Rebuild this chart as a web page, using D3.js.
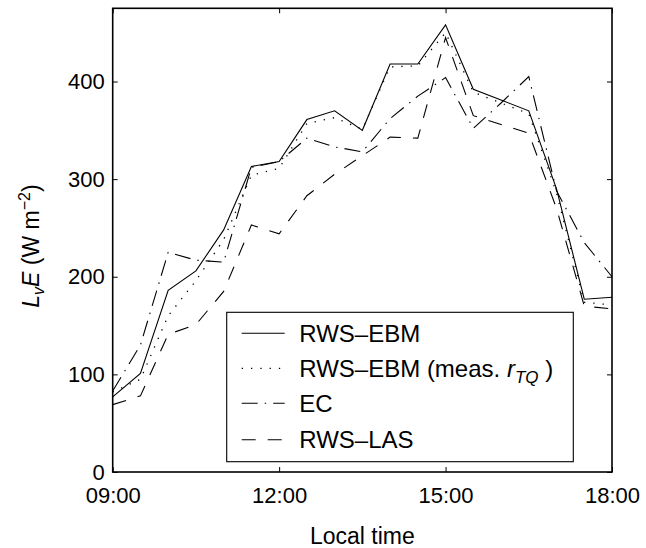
<!DOCTYPE html>
<html>
<head>
<meta charset="utf-8">
<script src="https://cdn.jsdelivr.net/npm/d3@7"></script>
<style>
  html, body { margin: 0; padding: 0; background: #fff; }
  svg { display: block; font-family: "Liberation Sans", Arial, Helvetica, sans-serif; }
</style>
</head>
<body>
<div id="chart"></div>
<script>
// half-hourly latent heat flux
const times = ['09:00','09:30','10:00','10:30','11:00','11:30','12:00','12:30','13:00','13:30',
               '14:00','14:30','15:00','15:30','16:00','16:30','17:00','17:30','18:00'];
const rwsEbm     = [77, 101, 186, 206, 248, 313, 318, 361, 370, 350, 418, 418, 458, 392, 381, 370, 290, 177, 179];
const rwsEbmMeas = [82,  95, 160, 196, 238, 304, 311, 357, 363, 351, 415, 416, 450, 389, 378, 367, 286, 174, 171];
const ec         = [83, 130, 225, 217, 215, 312, 318, 342, 333, 328, 362, 385, 404, 352, 378, 405, 288, 235, 200];
const rwsLas     = [69,  78, 141, 151, 185, 253, 244, 283, 305, 324, 343, 342, 445, 365, 356, 347, 270, 170, 167];

const xTicks = ['09:00', '12:00', '15:00', '18:00'];
const yTicks = [0, 100, 200, 300, 400];

const W = 646, H = 548;
const margin = { top: 8.3, right: 34, bottom: 76, left: 112.7 };
const iw = W - margin.left - margin.right;
const ih = H - margin.top - margin.bottom;

const parse = d3.timeParse('%H:%M');
const fmt = d3.timeFormat('%H:%M');

const x = d3.scaleTime().domain([parse('09:00'), parse('18:00')]).range([0, iw]);
const y = d3.scaleLinear().domain([0, 475]).range([ih, 0]);

const svg = d3.select('#chart').append('svg').attr('width', W).attr('height', H);
const g = svg.append('g').attr('transform', `translate(${margin.left},${margin.top})`);

// axes, ticks pointing inward on all four sides
const xt = xTicks.map(parse);
const styleAxis = sel => {
  sel.select('.domain').remove();
  sel.selectAll('.tick line').attr('stroke', '#000').attr('stroke-width', 1);
  sel.selectAll('.tick text').attr('fill', '#000').style('font-size', '22px');
};
g.append('g').attr('transform', `translate(0,${ih})`)
  .call(d3.axisBottom(x).tickValues(xt).tickFormat(fmt).tickSizeInner(-5).tickSizeOuter(0).tickPadding(15))
  .call(styleAxis);
g.append('g')
  .call(d3.axisTop(x).tickValues(xt).tickFormat('').tickSizeInner(-5).tickSizeOuter(0))
  .call(styleAxis);
g.append('g')
  .call(d3.axisLeft(y).tickValues(yTicks).tickSizeInner(-5).tickSizeOuter(0).tickPadding(8))
  .call(styleAxis);
g.append('g').attr('transform', `translate(${iw},0)`)
  .call(d3.axisRight(y).tickValues(yTicks).tickFormat('').tickSizeInner(-5).tickSizeOuter(0))
  .call(styleAxis);

const series = [
  { name: 'RWS–EBM', values: rwsEbm, dash: null, width: 1.1 },
  { name: 'meas', values: rwsEbmMeas, dash: '1.3,8', width: 1.3 },
  { name: 'EC', values: ec, dash: '16,7,1.5,7', width: 1.1 },
  { name: 'RWS–LAS', values: rwsLas, dash: '14,12', width: 1.1 },
];

const line = d3.line().x((d, i) => x(parse(times[i]))).y(d => y(d));

g.selectAll('.series').data(series).join('path')
  .attr('class', 'series')
  .attr('d', s => line(s.values))
  .attr('fill', 'none')
  .attr('stroke', '#000')
  .attr('stroke-width', s => s.width)
  .attr('stroke-dasharray', s => s.dash)
  .attr('stroke-linejoin', 'miter');

// frame
g.append('rect').attr('width', iw).attr('height', ih)
  .attr('fill', 'none').attr('stroke', '#000').attr('stroke-width', 1.6);

// legend
const lg = svg.append('g').attr('transform', 'translate(226.7,312.3)');
lg.append('rect').attr('width', 346.6).attr('height', 149.4)
  .attr('fill', '#fff').attr('stroke', '#000').attr('stroke-width', 1.1);
const rowY = [21, 56, 91, 127.5];
series.forEach((s, i) => {
  const row = lg.append('g').attr('transform', `translate(0,${rowY[i]})`);
  row.append('line').attr('x1', 15).attr('x2', 58).attr('y1', 0).attr('y2', 0)
    .attr('stroke', '#000').attr('stroke-width', s.width)
    .attr('stroke-dasharray', s.dash);
  const t = row.append('text').attr('x', 72.6).attr('y', 8.5)
    .style('font-size', '24px').attr('fill', '#000');
  if (s.name === 'meas') {
    t.append('tspan').text('RWS–EBM (meas. ');
    t.append('tspan').attr('font-style', 'italic').text('r');
    t.append('tspan').attr('font-style', 'italic').style('font-size', '17px').attr('dy', 6).text('TQ');
    t.append('tspan').attr('dy', -6).text(' )');
  } else {
    t.text(s.name);
  }
});

// axis titles
svg.append('text').attr('x', margin.left + iw / 2).attr('y', 544)
  .attr('text-anchor', 'middle').style('font-size', '23px').text('Local time');

const yl = svg.append('text')
  .attr('transform', 'translate(39,246) rotate(-90)')
  .attr('text-anchor', 'middle').style('font-size', '23px');
yl.append('tspan').attr('font-style', 'italic').text('L');
yl.append('tspan').attr('font-style', 'italic').style('font-size', '16px').attr('dy', 5).text('v');
yl.append('tspan').attr('font-style', 'italic').attr('dy', -5).text('E');
yl.append('tspan').text(' (W m');
yl.append('tspan').style('font-size', '16px').attr('dy', -9).text('−2');
yl.append('tspan').attr('dy', 9).text(')');
</script>
</body>
</html>
